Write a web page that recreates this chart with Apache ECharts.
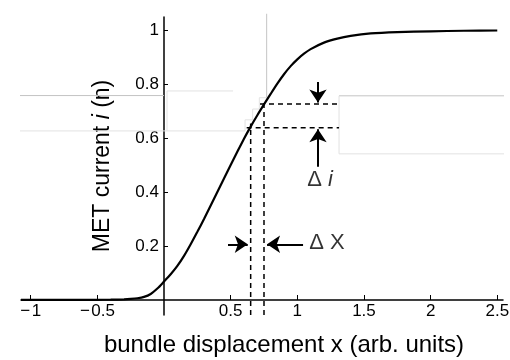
<!DOCTYPE html>
<html>
<head>
<meta charset="utf-8">
<script src="https://cdn.jsdelivr.net/npm/echarts@6/dist/echarts.min.js"></script>
<style>
  html, body { margin: 0; padding: 0; background: #fff; }
  #chart { width: 510px; height: 360px; }
</style>
</head>
<body>
<div id="chart"></div>
<script>
  // response curve
  var curveX = [-1.073, -0.8, -0.6, -0.5, -0.4, -0.3, -0.25, -0.2, -0.15, -0.1, -0.05, 0, 0.05, 0.1, 0.15, 0.2, 0.25, 0.3, 0.4, 0.5, 0.6, 0.65, 0.7, 0.75, 0.8, 0.85, 0.9, 0.95, 1.0, 1.05, 1.1, 1.2, 1.3, 1.4, 1.55, 1.75, 2.0, 2.25, 2.5];
  var curveY = [0, 0, 0.0002, 0.0003, 0.0008, 0.002, 0.0035, 0.006, 0.011, 0.022, 0.042, 0.068, 0.095, 0.126, 0.163, 0.206, 0.252, 0.3, 0.4, 0.5, 0.597, 0.642, 0.684, 0.724, 0.763, 0.801, 0.836, 0.866, 0.891, 0.912, 0.929, 0.953, 0.968, 0.978, 0.987, 0.992, 0.995, 0.997, 0.998];

  var xTicks = [-1, -0.5, 0.5, 1, 1.5, 2, 2.5];
  var yTicks = [0.2, 0.4, 0.6, 0.8, 1];

  // the two operating points (x, i)
  var opX = [0.65, 0.75];
  var opI = [0.638, 0.726];
  var dashEndX = 1.313;

  // arrows: [x1, y1, x2, y2], head at the second point
  var arrows = [
    [1.155, 0.807, 1.155, 0.731],
    [1.155, 0.493, 1.155, 0.632],
    [0.48, 0.206, 0.628, 0.206],
    [1.043, 0.206, 0.773, 0.206]
  ];

  // faint grey construction lines left in the original figure
  var greyDark = [
    [[-1.125, 0.757], [0, 0.757]],
    [[0.77, 0.749], [0.77, 1.06]],
    [[2.6, 0.756], [1.313, 0.756]]
  ];
  var greyLight = [
    [[-1.125, 0.626], [0.608, 0.626]],
    [[0.0225, 0.626], [0.0225, 0.774], [0.518, 0.774]],
    [[0.608, 0.626], [0.608, 0.667], [0.665, 0.667], [0.665, 0.707], [0.715, 0.707], [0.715, 0.749], [0.77, 0.749]],
    [[1.313, 0.756], [1.313, 0.541], [2.6, 0.541]]
  ];

  var labelPos = [[1.17, 0.446], [1.223, 0.211]];

  var FONT = 'Liberation Sans';

  var curveData = curveX.map(function (x, i) { return [x, curveY[i]]; });

  function segSeries(points, color, width, dash) {
    return {
      type: 'line',
      data: points,
      clip: false,
      silent: true,
      symbol: 'none',
      showSymbol: false,
      z: 1,
      lineStyle: { color: color, width: width, type: dash || 'solid' }
    };
  }

  var series = [];
  greyDark.forEach(function (p) { series.push(segSeries(p, '#c4c4c4', 1)); });
  greyLight.forEach(function (p) { series.push(segSeries(p, '#e2e2e2', 1)); });
  for (var k = 0; k < opX.length; k++) {
    series.push(segSeries([[opX[k], -0.056], [opX[k], opI[k] + 0.015]], '#000', 1.5, [5, 4]));
    series.push(segSeries([[opX[k] - 0.03, opI[k]], [dashEndX, opI[k]]], '#000', 1.5, [5, 4]));
  }

  series.push({
    type: 'line',
    data: curveData,
    smooth: 0.25,
    showSymbol: false,
    symbol: 'none',
    z: 3,
    lineStyle: { color: '#000', width: 2.2 },
    markLine: {
      silent: true,
      symbol: ['none', 'arrow'],
      symbolSize: 13,
      label: { show: false },
      lineStyle: { color: '#000', width: 2, type: 'solid' },
      data: arrows.map(function (a) {
        return [{ coord: [a[0], a[1]] }, { coord: [a[2], a[3]] }];
      })
    }
  });

  series.push({
    type: 'scatter',
    symbolSize: 1,
    itemStyle: { color: 'transparent' },
    silent: true,
    label: {
      show: true,
      position: 'inside',
      color: '#000',
      fontFamily: FONT,
      fontSize: 22,
      formatter: function (p) { return p.dataIndex === 0 ? '\u0394 {i|i}' : '\u0394 X'; },
      rich: { i: { fontStyle: 'italic', fontFamily: FONT, fontSize: 22, color: '#000' } }
    },
    data: labelPos
  });

  var chart = echarts.init(document.getElementById('chart'));
  chart.setOption({
    animation: false,
    grid: { left: 21, right: 7, top: 17, bottom: 45, containLabel: false, outerBoundsMode: 'none' },
    xAxis: {
      type: 'value',
      min: -1.073,
      max: 2.543,
      offset: -15,
      splitLine: { show: false },
      axisLine: { onZero: false, lineStyle: { color: '#000', width: 1.5 } },
      axisTick: { inside: true, length: 5, customValues: xTicks, lineStyle: { color: '#000' } },
      axisLabel: {
        customValues: xTicks,
        margin: 3,
        color: '#000',
        fontFamily: FONT,
        fontSize: 17,
        formatter: function (v) {
          return v < 0 ? '\u2212\u200a' + Math.abs(v) : String(v);
        }
      },
      name: 'bundle displacement x (arb. units)',
      nameLocation: 'middle',
      nameGap: 33,
      nameTextStyle: { color: '#000', fontFamily: FONT, fontSize: 24, padding: [0, 0, 0, 44] }
    },
    yAxis: {
      type: 'value',
      min: -0.056,
      max: 1.048,
      offset: -143,
      splitLine: { show: false },
      axisLine: { onZero: false, lineStyle: { color: '#000', width: 1.5 } },
      axisTick: { inside: true, length: 4, customValues: yTicks, lineStyle: { color: '#000' } },
      axisLabel: {
        customValues: yTicks,
        margin: 5,
        color: '#000',
        fontFamily: FONT,
        fontSize: 17
      },
      name: 'MET current {i|i} (n)',
      nameLocation: 'middle',
      nameGap: 50,
      nameTextStyle: {
        color: '#000', fontFamily: FONT, fontSize: 23,
        rich: { i: { fontStyle: 'italic', fontFamily: FONT, fontSize: 23, color: '#000' } }
      }
    },
    series: series
  });
</script>
</body>
</html>
